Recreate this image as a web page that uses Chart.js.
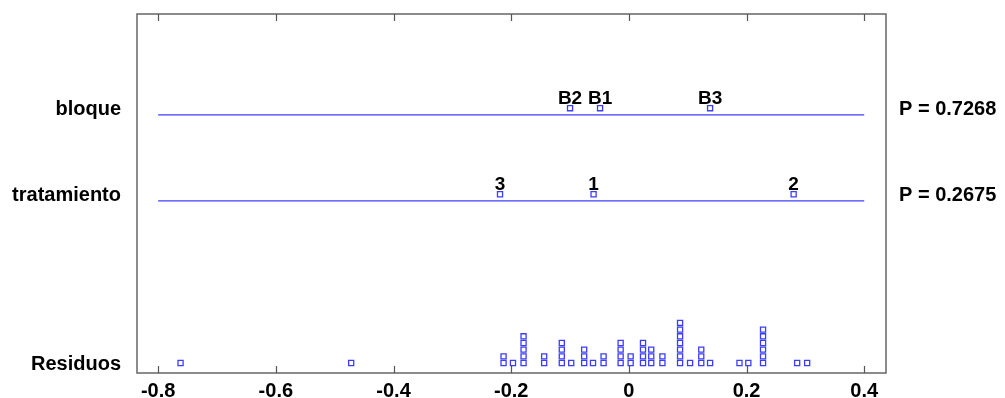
<!DOCTYPE html>
<html>
<head>
<meta charset="utf-8">
<script src="https://cdn.jsdelivr.net/npm/chart.js@4.4.0/dist/chart.umd.min.js"></script>
<style>
  html, body { margin: 0; padding: 0; background: #fff; }
</style>
</head>
<body>
<canvas id="chart" width="1005" height="398"></canvas>
<script>
const xTicks = [-0.8, -0.6, -0.4, -0.2, 0, 0.2, 0.4]
const factors = ['bloque', 'tratamiento']
const pValues = ['P = 0.7268', 'P = 0.2675']
const bloqueLabels = ['B2', 'B1', 'B3']
const bloqueValues = [-0.100, -0.049, 0.138]
const tratLabels = ['3', '1', '2']
const tratValues = [-0.219, -0.060, 0.280]
const residuals = [
    -0.762, -0.472,
    -0.213, -0.213, -0.197,
    -0.179, -0.179, -0.179, -0.179, -0.179,
    -0.144, -0.144,
    -0.114, -0.114, -0.114, -0.114, -0.098,
    -0.076, -0.076, -0.076, -0.061,
    -0.043, -0.043,
    -0.014, -0.014, -0.014, -0.014,
    0.003, 0.003,
    0.024, 0.024, 0.024, 0.024,
    0.038, 0.038, 0.038,
    0.057, 0.057,
    0.087, 0.087, 0.087, 0.087, 0.087, 0.087, 0.087,
    0.104, 0.123, 0.123, 0.123, 0.138,
    0.188, 0.203,
    0.228, 0.228, 0.228, 0.228, 0.228, 0.228,
    0.286, 0.303
]

const BLUE = '#3c3cff'
const FONT = 'Liberation Sans, Arial, sans-serif'
// row levels on the y scale (one unit = one stacked square)
const rowY = { bloque: 37.2, tratamiento: 24.3, residuos: 0 }

// stack equal residuals on top of each other
const counts = {}
const residualPoints = residuals.map(v => {
    const k = v.toFixed(3)
    counts[k] = counts[k] || 0
    return { x: v, y: rowY.residuos + counts[k]++ }
})

const pointStyle = {
    pointStyle: 'rect',
    pointRadius: 3.6,
    pointBorderWidth: 1.3,
    pointBorderColor: BLUE,
    pointBackgroundColor: '#fff',
    showLine: false
}

const datasets = []
factors.forEach(f => {
    datasets.push({
        data: [{ x: xTicks[0], y: rowY[f] }, { x: xTicks[xTicks.length - 1], y: rowY[f] }],
        showLine: true,
        borderColor: BLUE,
        borderWidth: 1.2,
        pointRadius: 0
    })
})
datasets.push(Object.assign({
    data: bloqueValues.map(v => ({ x: v, y: rowY.bloque + 1 })),
    names: bloqueLabels
}, pointStyle))
datasets.push(Object.assign({
    data: tratValues.map(v => ({ x: v, y: rowY.tratamiento + 1 })),
    names: tratLabels
}, pointStyle))
datasets.push(Object.assign({ data: residualPoints }, pointStyle))

const decor = {
    id: 'decor',
    afterDraw(chart) {
        const { ctx, chartArea: a, scales } = chart
        const x = scales.x, y = scales.y
        ctx.save()
        // frame
        ctx.strokeStyle = '#666'
        ctx.lineWidth = 1.5
        ctx.strokeRect(a.left, a.top, a.right - a.left, a.bottom - a.top)
        // inner ticks top and bottom
        ctx.lineWidth = 1.2
        ctx.strokeStyle = '#555'
        ctx.beginPath()
        xTicks.forEach(v => {
            const px = Math.round(x.getPixelForValue(v)) + 0.5
            ctx.moveTo(px, a.bottom); ctx.lineTo(px, a.bottom - 7)
            ctx.moveTo(px, a.top); ctx.lineTo(px, a.top + 7)
        })
        ctx.stroke()

        ctx.fillStyle = '#000'
        ctx.font = 'bold 20px ' + FONT
        ctx.textBaseline = 'alphabetic'
        // row names and p-values
        factors.forEach((f, i) => {
            const py = y.getPixelForValue(rowY[f])
            ctx.textAlign = 'right'
            ctx.fillText(f, a.left - 16, py)
            ctx.textAlign = 'left'
            ctx.fillText(pValues[i], a.right + 13, py)
        })
        ctx.textAlign = 'right'
        ctx.fillText('Residuos', a.left - 16, y.getPixelForValue(rowY.residuos) + 7)

        // point labels
        ctx.font = 'bold 19px ' + FONT
        ctx.textAlign = 'center'
        chart.data.datasets.forEach(ds => {
            if (!ds.names) return
            ds.data.forEach((p, i) => {
                ctx.fillText(ds.names[i], x.getPixelForValue(p.x), y.getPixelForValue(p.y) - 4)
            })
        })
        ctx.restore()
    }
}

new Chart(document.getElementById('chart'), {
    type: 'scatter',
    data: { datasets: datasets },
    options: {
        responsive: false,
        animation: false,
        devicePixelRatio: 1,
        layout: { padding: { left: 137, right: 119, top: 14, bottom: 0 } },
        plugins: { legend: { display: false }, tooltip: { enabled: false } },
        scales: {
            x: {
                type: 'linear',
                min: -0.836,
                max: 0.437,
                afterBuildTicks: s => { s.ticks = xTicks.map(v => ({ value: v })) },
                afterFit: s => { s.height = 25 },
                grid: { display: false, drawTicks: false },
                border: { display: false },
                ticks: {
                    padding: 6,
                    color: '#000',
                    font: { family: FONT, size: 20, weight: 'bold' },
                    callback: v => String(v)
                }
            },
            y: {
                type: 'linear',
                display: false,
                min: -1.5,
                max: 52.32
            }
        }
    },
    plugins: [decor]
})
</script>
</body>
</html>
